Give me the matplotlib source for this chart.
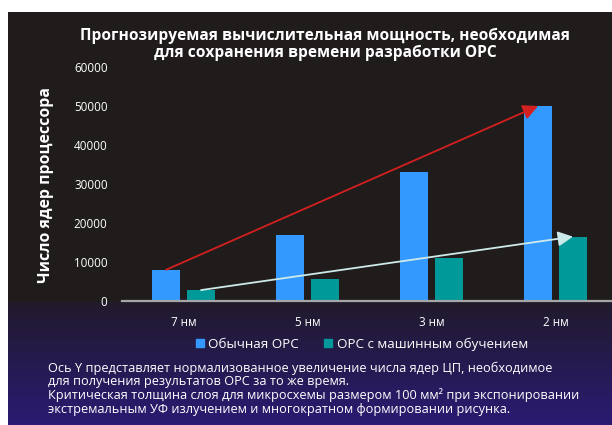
import numpy as np
import matplotlib
matplotlib.use("Agg")
import matplotlib.pyplot as plt
from matplotlib.patches import Patch

categories = ["7 нм", "5 нм", "3 нм", "2 нм"]
conventional_opc = [8000, 17000, 33000, 50000]
ml_opc = [2800, 5600, 11000, 16500]
series_names = ["Обычная OPC", "OPC с машинным обучением"]
y_ticks = [0, 10000, 20000, 30000, 40000, 50000, 60000]

title = "Прогнозируемая вычислительная мощность, необходимая\nдля сохранения времени разработки OPC"
ylabel = "Число ядер процессора"
note_lines = [
    "Ось Y представляет нормализованное увеличение числа ядер ЦП, необходимое",
    "для получения результатов OPC за то же время.",
    "Критическая толщина слоя для микросхемы размером 100 мм² при экспонировании",
    "экстремальным УФ излучением и многократном формировании рисунка.",
]

FONT = ["Open Sans", "DejaVu Sans"]
plt.rcParams["font.family"] = FONT

W, H = 612, 425
fig = plt.figure(figsize=(W / 100, H / 100), dpi=100)

# background
bg = np.zeros((H, W, 3))
top = np.array([0x20, 0x1c, 0x1b]) / 255
g0 = np.array([0x21, 0x1b, 0x2c]) / 255
g1 = np.array([0x2b, 0x1a, 0x74]) / 255
for r in range(H):
    if r < 302:
        bg[r] = top
    else:
        t = (r - 302) / (H - 302)
        bg[r] = g0 * (1 - t) + g1 * t
bg[:12, :] = 1.0
bg[:, :8] = 1.0
bax = fig.add_axes([0, 0, 1, 1])
bax.imshow(bg, aspect="auto", interpolation="bilinear")
bax.axis("off")

# main axes
x0_px, x1_px = 121.5, 617.5
y0_px, y1_px = 301, 67
ax = fig.add_axes([x0_px / W, (H - y0_px) / H, (x1_px - x0_px) / W, (y0_px - y1_px) / H])
ax.patch.set_alpha(0)
x = np.arange(len(categories))
bw = 28 / 124
off = 17.5 / 124
ax.bar(x - off, conventional_opc, bw, color="#3399ff", zorder=2)
ax.bar(x + off, ml_opc, bw, color="#009999", zorder=2)
ax.set_xlim(-0.5, len(categories) - 0.5)
ax.set_ylim(0, 60000)
ax.set_yticks(y_ticks)
ax.set_yticklabels([str(v) for v in y_ticks])
ax.set_xticks(x)
ax.set_xticklabels(categories)
for s in ["top", "right", "left"]:
    ax.spines[s].set_visible(False)
ax.spines["bottom"].set_color("#a6a6a6")
ax.spines["bottom"].set_linewidth(1.6)
ax.tick_params(axis="both", length=0, colors="white", labelsize=8.4)
ax.tick_params(axis="y", pad=10)
ax.tick_params(axis="x", pad=11)

# trend arrows
ax.annotate("", xy=(x[-1] - off, conventional_opc[-1]), xytext=(x[0] - off, conventional_opc[0]),
            arrowprops=dict(arrowstyle="-|>,head_length=0.9,head_width=0.45", color="#d42020", lw=1.3,
                            shrinkA=0, shrinkB=0), zorder=3)
ax.annotate("", xy=(x[-1] + off, ml_opc[-1]), xytext=(x[0] + off, ml_opc[0]),
            arrowprops=dict(arrowstyle="-|>,head_length=0.9,head_width=0.45", color="#cdeaea", lw=1.3,
                            shrinkA=0, shrinkB=0), zorder=3)

fig.text(325 / W, 1 - 44 / H, title, ha="center", va="center", color="white",
         fontsize=11.2, fontweight="bold", linespacing=1.05)
fig.text(46 / W, 1 - 185 / H, ylabel, rotation=90, ha="center", va="center",
         color="white", fontsize=11.4, fontweight="bold")

handles = [Patch(color="#3399ff"), Patch(color="#009999")]
fig.legend(handles, series_names, loc="center", bbox_to_anchor=(362 / W, 1 - 344 / H),
           ncol=2, frameon=False, fontsize=9.6, labelcolor="white", handlelength=0.6,
           handleheight=0.6, handletextpad=0.35, columnspacing=1.9)

for i, line in enumerate(note_lines):
    fig.text(48 / W, 1 - (368 + 13.7 * i) / H, line, ha="left", va="center",
             color="white", fontsize=9.2)

fig.savefig("out.png", dpi=100)
